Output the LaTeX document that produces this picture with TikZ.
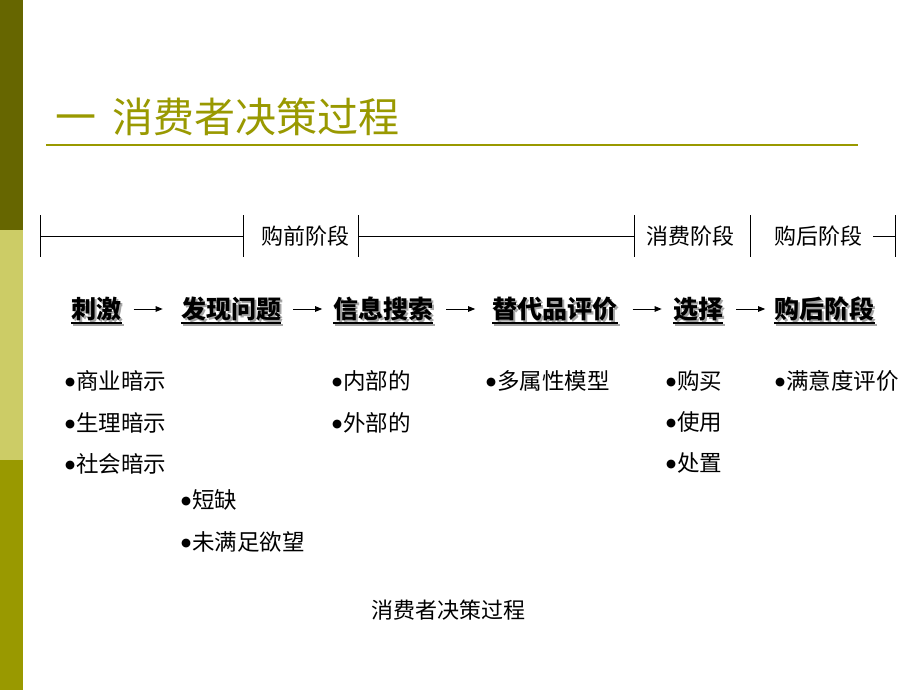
\documentclass[tikz,border=0pt]{standalone}
\usepackage{fontspec}
\setmainfont{Noto Sans CJK SC}
\newfontfamily\dvfont{DejaVu Sans}
\usetikzlibrary{arrows.meta}
\definecolor{barA}{RGB}{102,102,0}
\definecolor{barB}{RGB}{204,204,102}
\definecolor{barC}{RGB}{153,153,0}
\definecolor{titlec}{RGB}{153,153,0}
\definecolor{shadowc}{RGB}{165,165,165}
\newcommand{\bul}{\raisebox{4.5pt}{\dvfont\fontsize{11.5}{11.5}\selectfont ●}\hspace{1pt}}
\begin{document}
\begin{tikzpicture}[x=1pt,y=-1pt,
  lbl/.style={font=\fontsize{22}{22}\selectfont, inner sep=0pt},
  item/.style={font=\fontsize{22.5}{22.5}\selectfont, inner sep=0pt, anchor=west},
  stagetxt/.style={font=\fontsize{25}{25}\selectfont\bfseries, inner sep=0pt},
  tline/.style={line width=1pt, black},
  uline/.style={line width=1.4pt},
  flow/.style={line width=0.9pt, -{Triangle[length=7pt,width=5.5pt]}}]
\useasboundingbox (0,0) rectangle (920,690);
\fill[white] (0,0) rectangle (920,690);
% left bar
\fill[barA] (0,0) rectangle (23,230);
\fill[barB] (0,230) rectangle (23,460);
\fill[barC] (0,460) rectangle (23,690);
% title
\node[anchor=west, inner sep=0pt, text=titlec, font=\fontsize{41}{41}\selectfont] (title) at (55,117) {一\hspace{16pt}消费者决策过程};
\draw[titlec, line width=2pt] (46,145) -- (858,145);
% timeline
\coordinate (t1) at (40,236);
\coordinate (t2) at (243,236);
\coordinate (t3) at (358,236);
\coordinate (t4) at (634,236);
\coordinate (t5) at (750,236);
\coordinate (t6) at (895,236);
\coordinate (t7) at (873,236);
\foreach \t in {t1,t2,t3,t4,t5,t6}{\draw[tline] ([yshift=21pt]\t) -- ([yshift=-21pt]\t);}
\draw[tline] (t1) -- (t2);
\draw[tline] (t3) -- (t4);
\draw[tline] (t7) -- (t6);
\node[lbl] (p1) at (305.5,236) {购前阶段};
\node[lbl] (p2) at (690,236) {消费阶段};
\node[lbl] (p3) at (818.5,236) {购后阶段};
% stages
\foreach \n/\x/\txt in {s1/96.5/刺激, s2/231/发现问题, s3/383/信息搜索, s4/555/替代品评价, s5/698/选择, s6/824.5/购后阶段}{
  \node[stagetxt, text=shadowc] (\n sh) at (\x+2,309+2) {\txt};
  \draw[uline, shadowc] (\n sh.west |- 0,325) -- (\n sh.east |- 0,325);
  \node[stagetxt] (\n) at (\x,309) {\txt};
  \draw[uline] (\n.west |- 0,323) -- (\n.east |- 0,323);
}
\draw[flow] ([xshift=12pt]s1.east) -- ++(29,0) coordinate (a1);
\draw[flow] ([xshift=12pt]s2.east) -- ++(29,0) coordinate (a2);
\draw[flow] ([xshift=13pt]s3.east) -- ++(29,0) coordinate (a3);
\draw[flow] ([xshift=15pt]s4.east) -- ++(29,0) coordinate (a4);
\draw[flow] ([xshift=13pt]s5.east) -- ++(29,0) coordinate (a5);
% items
\node[item] (i1) at (65,381) {\bul 商业暗示};
\node[item] (i2) at (65,423) {\bul 生理暗示};
\node[item] (i3) at (65,464) {\bul 社会暗示};
\node[item] (i4) at (181,500) {\bul 短缺};
\node[item] (i5) at (181,542) {\bul 未满足欲望};
\node[item] (i6) at (332,381) {\bul 内部的};
\node[item] (i7) at (332,423) {\bul 外部的};
\node[item] (i8) at (486,381) {\bul 多属性模型};
\node[item] (i9) at (666,381) {\bul 购买};
\node[item] (i10) at (666,422) {\bul 使用};
\node[item] (i11) at (666,463) {\bul 处置};
\node[item] (i12) at (775,381) {\bul 满意度评价};
% caption
\node[lbl] (cap) at (448,610) {消费者决策过程};
\end{tikzpicture}
\end{document}
